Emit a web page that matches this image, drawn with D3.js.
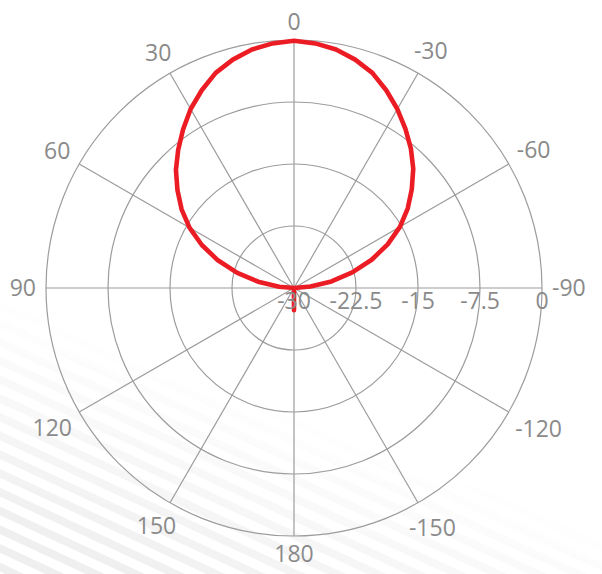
<!DOCTYPE html>
<html>
<head>
<meta charset="utf-8">
<script src="https://cdn.jsdelivr.net/npm/d3@7"></script>
<style>
  html, body { margin: 0; padding: 0; background: #ffffff; }
  svg { display: block; }
</style>
</head>
<body>
<svg id="chart" width="602" height="574"></svg>
<script>
// Angular axis ticks (degrees, 0 at top, positive counter-clockwise)
const angleTicks = [0, 30, 60, 90, 120, 150, 180, -150, -120, -90, -60, -30];
// Radial axis ticks (dB)
const radialTicks = [-30, -22.5, -15, -7.5, 0];

// Measured directivity: angle (deg) and gain (dB)
const patternAngles = [
  0, 5, 10, 15, 20, 25, 30, 35, 40, 45, 50, 55, 60, 65, 70, 75, 80, 85, 90,
  95, 100, 105, 110, 115, 120, 125, 130, 135, 140, 145, 150, 155, 160, 165, 170, 175,
  180,
  -175, -170, -165, -160, -155, -150, -145, -140, -135, -130, -125, -120, -115, -110, -105, -100, -95,
  -90, -85, -80, -75, -70, -65, -60, -55, -50, -45, -40, -35, -30, -25, -20, -15, -10, -5
];
const patternGain = [
  -0.1, -0.3, -0.7, -1.4, -2.3, -3.6, -5.0, -6.6, -8.2, -9.8, -11.6, -13.4, -15.4, -17.7, -20.2, -22.9, -25.6, -28.2, -30,
  -30, -30, -30, -30, -30, -30, -30, -30, -30, -30, -30, -30, -30, -30, -30, -30, -30,
  -27.3,
  -30, -30, -30, -30, -30, -30, -30, -30, -30, -30, -30, -30, -30, -30, -30, -30, -30,
  -30, -28.0, -25.4, -22.7, -20.0, -17.5, -15.2, -13.2, -11.4, -9.6, -8.0, -6.5, -5.0, -3.6, -2.3, -1.4, -0.7, -0.3
];

const W = 602, H = 574;
const cx = 294, cy = 288, R = 248;
const fontSize = 23;
const capH = fontSize * 0.714;
const labelColor = "#8a8a8a";
const gridColor = "#9c9c9c";
const font = "'Open Sans', 'Noto Sans', sans-serif";

const svg = d3.select("#chart");
const defs = svg.append("defs");

// Soft diagonal stripes in the lower background
const pat = defs.append("pattern")
  .attr("id", "stripes")
  .attr("patternUnits", "userSpaceOnUse")
  .attr("width", 10).attr("height", 17)
  .attr("patternTransform", "rotate(25)");
pat.append("rect").attr("width", 10).attr("height", 8).attr("fill", "#ededed");

const grad = defs.append("linearGradient")
  .attr("id", "stripeFade")
  .attr("gradientUnits", "userSpaceOnUse")
  .attr("x1", 220).attr("y1", 380).attr("x2", 140).attr("y2", 585);
grad.append("stop").attr("offset", 0).attr("stop-color", "#fff").attr("stop-opacity", 0);
grad.append("stop").attr("offset", 1).attr("stop-color", "#fff").attr("stop-opacity", 0.9);

const mask = defs.append("mask").attr("id", "stripeMask");
mask.append("rect").attr("width", W).attr("height", H).attr("fill", "url(#stripeFade)");

svg.append("rect").attr("width", W).attr("height", H).attr("fill", "#ffffff");
svg.append("rect").attr("width", W).attr("height", H)
  .attr("fill", "url(#stripes)").attr("mask", "url(#stripeMask)");

const r = d3.scaleLinear().domain([-30, 0]).range([0, R]).clamp(true);
const toRad = d => -d * Math.PI / 180; // clockwise-from-top screen angle

const g = svg.append("g").attr("transform", `translate(${cx},${cy})`);

// Concentric rings
g.append("g").selectAll("circle")
  .data(radialTicks.filter(v => r(v) > 0))
  .join("circle")
  .attr("r", d => r(d))
  .attr("fill", "none")
  .attr("stroke", gridColor)
  .attr("stroke-width", 1.2);

// Spokes
g.append("g").selectAll("line")
  .data(angleTicks)
  .join("line")
  .attr("x1", 0).attr("y1", 0)
  .attr("x2", d => R * Math.sin(toRad(d)))
  .attr("y2", d => -R * Math.cos(toRad(d)))
  .attr("stroke", gridColor)
  .attr("stroke-width", 1.2);

// Pattern curve
const data = patternAngles.map((a, i) => ({ a, v: patternGain[i] }));
const line = d3.lineRadial()
  .angle(d => toRad(d.a))
  .radius(d => r(d.v))
  .curve(d3.curveLinearClosed);

g.append("path")
  .datum(data)
  .attr("d", line)
  .attr("fill", "none")
  .attr("stroke", "#ec1c24")
  .attr("stroke-width", 4.6)
  .attr("stroke-linejoin", "round")
  .attr("stroke-linecap", "round");

// Angular labels, pushed outward so the text box clears the outer ring
const margin = 10;
const angLabels = g.append("g")
  .attr("font-family", font)
  .attr("font-size", fontSize)
  .attr("fill", labelColor);
angleTicks.forEach(t => {
  const a = toRad(t);
  const dx = Math.sin(a), dy = -Math.cos(a);
  const txt = angLabels.append("text").attr("text-anchor", "middle").text(String(t));
  const w = txt.node().getComputedTextLength();
  const ext = Math.abs(dx) * w / 2 + Math.abs(dy) * capH / 2;
  const rl = R + margin + ext;
  txt.attr("x", rl * dx).attr("y", rl * dy + capH / 2);
});

// Radial labels along the right horizontal axis
g.append("g")
  .attr("font-family", font)
  .attr("font-size", fontSize)
  .attr("fill", labelColor)
  .selectAll("text")
  .data(radialTicks)
  .join("text")
  .attr("text-anchor", "middle")
  .attr("x", d => r(d))
  .attr("y", 5 + capH)
  .text(d => String(d));
</script>
</body>
</html>
